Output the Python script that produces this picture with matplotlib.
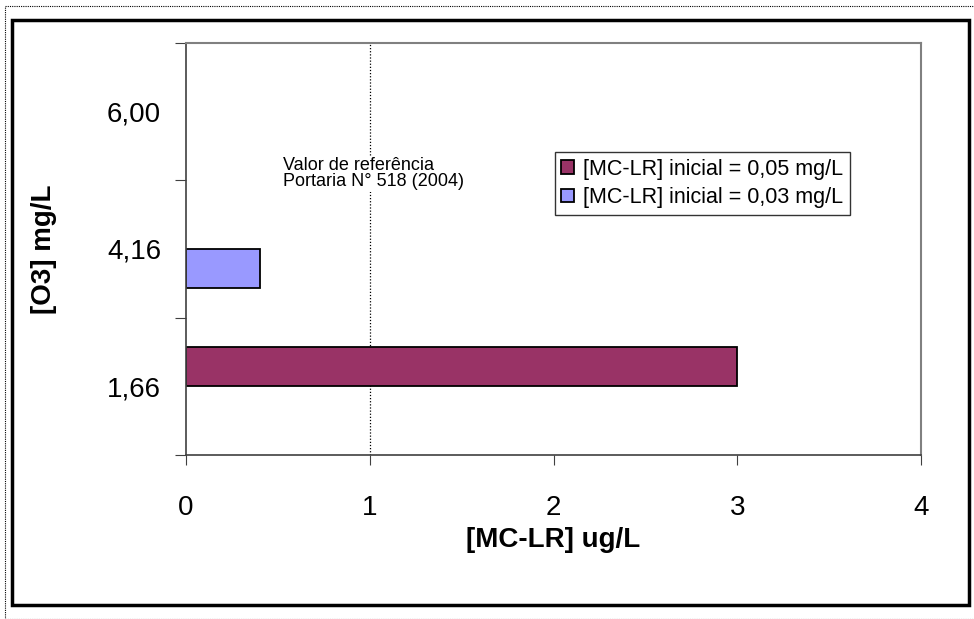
import matplotlib
matplotlib.use("Agg")
import matplotlib.pyplot as plt
from matplotlib.patches import Rectangle
import numpy as np

plt.rcParams['font.family'] = ['Liberation Sans', 'DejaVu Sans']

categories = ["1,66", "4,16", "6,00"]
series_names = ["[MC-LR] inicial = 0,05 mg/L", "[MC-LR] inicial = 0,03 mg/L"]
values_005 = [3.0, np.nan, np.nan]
values_003 = [np.nan, 0.4, np.nan]
colors = ["#993366", "#9999FF"]
ref_value = 1.0
x_ticks = [0, 1, 2, 3, 4]

fig = plt.figure(figsize=(9.74, 6.19), dpi=100)
ax = fig.add_axes([0.191, 0.265, 0.7546, 0.6655])

y = np.arange(len(categories))
h = 0.285
ax.barh(y + h / 2, values_005, height=h, color=colors[0], edgecolor="black", linewidth=1.3, label=series_names[0])
ax.barh(y - h / 2, values_003, height=h, color=colors[1], edgecolor="black", linewidth=1.3, label=series_names[1])

ax.axvline(ref_value, color="black", linestyle=(0, (1, 1.5)), linewidth=0.9, zorder=0.5)

ax.set_xlim(0, 4)
ax.set_ylim(-0.5, 2.5)
ax.set_xticks(x_ticks)
ax.set_xticklabels([str(t) for t in x_ticks], fontsize=20)
ax.tick_params(axis="x", length=7, direction="out", pad=22, color="#404040")

ax.set_yticks([-0.5, 0.5, 1.5, 2.5])
ax.set_yticklabels([])
ax.set_yticks(y, minor=True)
ax.set_yticklabels(categories, minor=True, fontsize=20)
ax.tick_params(axis="y", which="major", length=8, direction="out", color="#404040")
ax.tick_params(axis="y", which="minor", length=0, pad=18)

for s in ["top", "right"]:
    ax.spines[s].set_color("#808080")
    ax.spines[s].set_linewidth(1.5)
for s in ["left", "bottom"]:
    ax.spines[s].set_color("#404040")
    ax.spines[s].set_linewidth(1.2)

ax.set_xlabel("[MC-LR] ug/L", fontsize=20, fontweight="bold", labelpad=4)
ax.set_ylabel("[O3] mg/L", fontsize=20, fontweight="bold", labelpad=36)

ax.text(0.528, 1.67, "Valor de referência\nPortaria N° 518 (2004)", fontsize=13,
        va="top", ha="left", linespacing=0.95,
        bbox=dict(facecolor="white", edgecolor="none", pad=1))

handles, labels = ax.get_legend_handles_labels()
leg = ax.legend(handles, labels, loc="upper left", bbox_to_anchor=(0.502, 0.735),
                fontsize=15.5, frameon=True, fancybox=False, edgecolor="black",
                borderpad=0.3, handlelength=0.6, handleheight=0.6, handletextpad=0.4,
                labelspacing=0.35, borderaxespad=0)
leg.get_frame().set_linewidth(1.0)

# outer frames
fig.patches.append(Rectangle((12 / 974, 1 - 605 / 619), (969 - 12) / 974, (605 - 20) / 619,
                             transform=fig.transFigure, fill=False, edgecolor="black", linewidth=2.5))
fig.patches.append(Rectangle((5 / 974, 0.0), (974 - 5) / 974 + 0.01, (619 - 6) / 619,
                             transform=fig.transFigure, fill=False, edgecolor="black",
                             linewidth=0.8, linestyle=(0, (1, 1))))

fig.savefig("out.png", dpi=100)
